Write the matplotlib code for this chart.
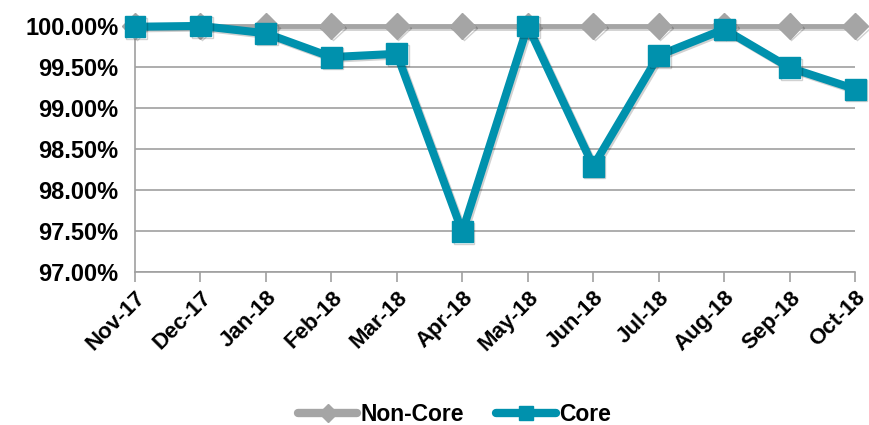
import matplotlib
matplotlib.use("Agg")
import matplotlib.pyplot as plt
import matplotlib.patheffects as pe
from matplotlib.lines import Line2D
from matplotlib.ticker import FuncFormatter, MultipleLocator

months = ["Nov-17", "Dec-17", "Jan-18", "Feb-18", "Mar-18", "Apr-18",
          "May-18", "Jun-18", "Jul-18", "Aug-18", "Sep-18", "Oct-18"]
non_core = [100.00] * 12
core = [99.99, 100.00, 99.91, 99.62, 99.66, 97.49,
        100.00, 98.29, 99.64, 99.96, 99.49, 99.23]

plt.rcParams['font.family'] = ['Liberation Sans', 'DejaVu Sans']
plt.rcParams['font.weight'] = 'bold'

fig = plt.figure(figsize=(8.69, 4.25), dpi=100)
ax = fig.add_axes([0.1553, 0.36, 0.984 - 0.1553, 0.939 - 0.36])

x = list(range(len(months)))
shadow = [pe.SimpleLineShadow(offset=(1.2, -1.2), alpha=0.18, shadow_color='black'), pe.Normal()]

gray = '#A5A5A5'
teal = '#0091AD'
ax.plot(x, non_core, color=gray, lw=3.5, marker='D', ms=13,
        mfc=gray, mec=gray, clip_on=False, zorder=3, path_effects=shadow)
ax.plot(x, core, color=teal, lw=5.8, marker='s', ms=15,
        mfc=teal, mec=teal, clip_on=False, zorder=4, path_effects=shadow)

ax.set_xlim(0, 11)
ax.set_ylim(97, 100)
ax.yaxis.set_major_locator(MultipleLocator(0.5))
ax.yaxis.set_major_formatter(FuncFormatter(lambda v, p: f"{v:.2f}%"))
ax.grid(axis='y', color='#A0A0A0', lw=1.2)
ax.set_axisbelow(True)

for s in ['top', 'right']:
    ax.spines[s].set_visible(False)
for s in ['left', 'bottom']:
    ax.spines[s].set_color('#A0A0A0')
    ax.spines[s].set_linewidth(1.2)

ax.set_xticks(x)
ax.set_xticklabels(months, rotation=45, ha='right', rotation_mode='anchor',
                   fontsize=16, fontweight='bold')
ax.tick_params(axis='x', length=7, width=1.2, color='#A0A0A0', direction='out', pad=4)
ax.tick_params(axis='y', length=0, labelsize=17, pad=12)
for t in ax.get_yticklabels():
    t.set_fontweight('bold')

h1 = Line2D([], [], color=gray, lw=6, marker='D', ms=9, mfc=gray, mec=gray,
            solid_capstyle='round')
h2 = Line2D([], [], color=teal, lw=6, marker='s', ms=10, mfc=teal, mec=teal,
            solid_capstyle='round')
leg = fig.legend(handles=[h1, h2], labels=['Non-Core', 'Core'], loc='center',
                 bbox_to_anchor=(0.523, 0.025),
                 ncol=2, frameon=False, fontsize=16.5, handlelength=2.6,
                 handletextpad=0.15, columnspacing=1.4, borderaxespad=0)
for t in leg.get_texts():
    t.set_fontweight('bold')

fig.savefig("out.png", dpi=100)
